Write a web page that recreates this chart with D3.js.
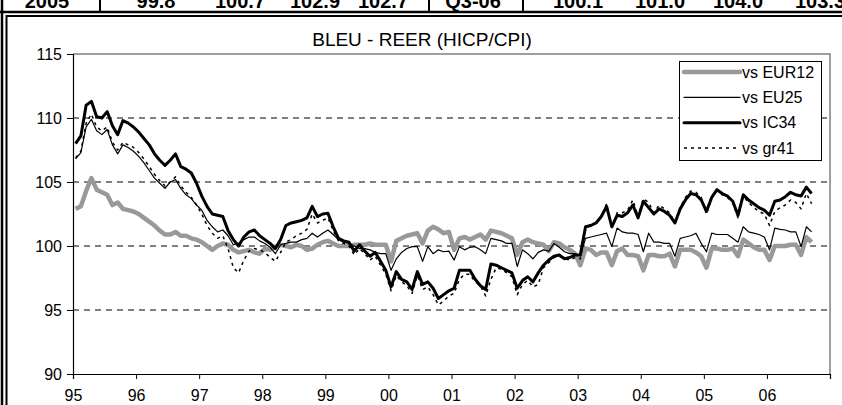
<!DOCTYPE html>
<html>
<head>
<meta charset="utf-8">
<script src="https://cdn.jsdelivr.net/npm/d3@7"></script>
<style>
body { margin: 0; background: #fff; }
svg { display: block; }
text { font-family: "Liberation Sans", Arial, sans-serif; }
</style>
</head>
<body>
<div id="chart"></div>
<script>
// table row above the chart (only its bottom shows)
var tableCells = ["2005", "99.8", "100.7", "102.9", "102.7", "Q3-06", "100.1", "101.0", "104.0", "103.3"];
var tableX = [47, 156, 240, 315, 383, 473, 578, 660, 738, 820];

var yearLabels = ["95", "96", "97", "98", "99", "00", "01", "02", "03", "04", "05", "06"];
var yTicks = [90, 95, 100, 105, 110, 115];
var gridValues = [95, 100, 105, 110];
var seriesNames = ["vs EUR12", "vs EU25", "vs IC34", "vs gr41"];

// monthly values, Jan 95 - Sep 06
var eur12 = [
  102.9, 103.1, 104.3, 105.3, 104.4, 104.2, 104.0, 103.2, 103.4, 102.9, 102.8, 102.7,
  102.5, 102.2, 101.9, 101.6, 101.2, 100.9, 100.9, 101.1, 100.8, 100.8, 100.6, 100.5,
  100.3, 100.0, 99.7, 100.0, 100.2, 100.1, 99.7, 99.5, 99.6, 99.7, 99.5, 99.4,
  99.8, 99.7, 99.95, 100.1, 100.0, 99.9, 100.1, 100.0, 99.7, 99.8, 100.1, 100.3,
  100.4, 100.2, 100.0, 100.0, 100.0, 100.1, 100.1, 100.1, 100.2, 100.1, 100.1, 100.1,
  98.8, 100.4, 100.6, 100.8, 100.9, 101.0, 100.2, 101.2, 101.5, 101.3, 101.0, 101.1,
  99.7, 100.6, 100.7, 100.5, 100.7, 100.9, 100.5, 101.2, 101.1, 101.0, 100.8, 100.6,
  99.3, 100.3, 100.5, 100.3, 100.2, 100.1, 99.6, 100.3, 100.2, 99.9, 99.7, 99.4,
  98.5, 99.8, 99.7, 99.3, 99.5, 99.5, 98.5, 99.6, 99.8, 99.3, 99.3, 99.2,
  98.1, 99.3, 99.3, 99.2, 99.2, 99.4, 98.4, 99.7, 99.7, 99.7, 99.5, 99.2,
  98.3, 99.8, 99.8, 99.7, 99.7, 99.8, 99.2, 100.5, 100.2, 99.9, 99.7, 99.7,
  98.9, 100.0, 100.0, 100.0, 100.1, 100.1, 99.3, 100.7, 100.3
];
var eu25 = [
  106.8, 107.3, 109.3, 109.9, 109.0, 108.7, 109.1, 107.9, 107.2, 107.9, 107.7, 107.4,
  107.0, 106.5, 105.9, 105.3, 104.9, 104.5, 105.0, 105.2, 104.5, 104.0, 103.7, 103.2,
  102.8, 102.0, 101.5, 101.1, 101.25, 100.8, 100.1, 100.2, 100.5, 100.7, 100.7, 100.4,
  100.2, 99.9, 99.4, 100.1, 100.2, 100.3, 100.3, 100.5, 100.6, 101.0, 100.7, 101.0,
  101.25, 100.9, 100.5, 100.3, 100.2, 100.0, 99.8, 99.8, 99.7, 99.5, 99.4, 99.4,
  98.1, 99.0, 99.5, 99.8, 99.95, 99.95, 98.8, 99.95, 99.4, 99.7, 99.55, 99.6,
  98.9, 99.95, 99.7, 99.9, 99.95, 99.7, 99.4, 100.6, 100.5, 100.4, 100.2, 100.2,
  98.4, 99.7, 99.4, 99.0, 99.5, 99.7, 99.6, 100.2, 99.9, 99.55, 99.4, 99.4,
  99.2, 100.6, 100.7, 100.8, 100.9, 101.0, 99.95, 101.4, 101.1, 101.0, 101.0, 100.9,
  99.55, 101.0, 100.3, 100.3, 100.2, 100.2, 99.2, 100.6, 100.7, 100.8, 101.0, 100.2,
  99.55, 101.0, 100.9, 100.9, 100.9, 100.6, 100.3, 101.5, 101.1, 101.0, 100.9, 100.7,
  99.7, 101.4, 101.3, 101.25, 101.1, 101.1, 99.95, 101.5, 101.1
];
var ic34 = [
  108.0, 108.6, 111.0, 111.3, 110.1, 110.0, 110.5, 109.4, 108.7, 109.8, 109.6, 109.3,
  108.9, 108.4, 107.9, 107.2, 106.7, 106.3, 106.7, 107.2, 106.2, 106.0, 105.7, 104.9,
  103.9, 103.1, 102.5, 102.4, 102.3, 101.2, 100.5, 100.0, 100.7, 101.1, 101.25, 100.8,
  100.5, 100.2, 99.8, 100.5, 101.6, 101.8, 101.9, 102.0, 102.2, 103.1, 102.3, 102.5,
  102.55, 101.5, 100.6, 100.4, 100.3, 99.6, 100.1, 99.6, 99.2, 99.5, 98.8, 98.1,
  96.8, 98.0, 97.4, 97.2, 96.6, 98.0, 97.0, 97.2, 96.7, 95.9, 96.2, 96.5,
  96.7, 98.1, 98.1, 98.1, 97.4, 96.9, 96.6, 98.6, 98.5, 98.3, 98.1, 97.9,
  96.7, 97.3, 97.6, 97.2, 97.9, 98.5, 98.9, 99.2, 99.3, 99.0, 99.1, 99.3,
  99.3, 101.5, 101.6, 101.8, 102.3, 103.1, 101.5, 102.4, 102.3, 102.6, 103.2, 102.2,
  103.5, 103.0, 102.5, 102.9, 102.7, 102.4, 101.8, 102.9, 103.6, 104.1, 104.0, 103.6,
  102.7, 103.8, 104.4, 104.1, 103.9, 103.5, 102.4, 104.0, 103.6, 103.3, 103.0, 102.8,
  102.4, 103.5, 103.6, 103.85, 104.2, 104.0, 103.9, 104.6, 104.1
];
var gr41 = [
  106.9, 107.4, 109.6, 110.3, 109.3, 109.0, 109.3, 108.1, 107.5, 108.1, 107.9, 107.7,
  107.3, 106.8, 106.2, 105.6, 105.1, 104.7, 105.0, 105.4, 104.7, 104.2, 103.8, 103.2,
  102.5, 101.6, 101.0, 100.6, 100.8, 99.8, 98.3, 97.9, 98.9, 99.6, 99.8, 99.7,
  99.5, 99.1, 98.8, 99.5, 100.3, 100.5, 100.8, 101.0, 101.3, 102.5, 101.8, 102.0,
  102.2, 101.2, 100.4, 100.2, 100.0, 99.3, 99.8, 99.4, 98.9, 99.2, 98.5, 97.8,
  96.5, 97.7, 97.2, 96.9, 96.3, 97.7, 96.6, 96.8, 96.2, 95.4, 95.7, 96.1,
  96.3, 97.4, 97.8, 97.8, 97.2, 96.9, 96.1, 97.4, 98.3, 98.2, 97.9, 97.6,
  96.2, 97.0, 97.3, 96.8, 97.0, 98.3, 98.7, 99.1, 99.2, 99.0, 98.9, 99.1,
  99.0, 101.3, 101.7, 101.8, 102.3, 103.3, 101.4, 102.6, 102.6, 102.8, 103.6, 102.3,
  103.7, 103.4, 102.6, 103.2, 102.9, 102.6, 101.8, 103.0, 103.8, 104.3, 104.2, 103.8,
  102.5, 103.8, 104.3, 104.0, 103.8, 103.4, 102.2, 103.9, 103.4, 103.0, 102.7, 102.5,
  101.6, 102.7, 103.0, 103.2, 103.6, 103.4, 102.9, 104.1, 103.3
];

var series = [
  {name: seriesNames[0], values: eur12, color: "#999999", width: 4.5, dash: null},
  {name: seriesNames[1], values: eu25, color: "#000", width: 1.2, dash: null},
  {name: seriesNames[2], values: ic34, color: "#000", width: 3, dash: null},
  {name: seriesNames[3], values: gr41, color: "#000", width: 1.5, dash: "3,4"}
];

var width = 842, height = 405;
var plot = {left: 73, right: 830, top: 54, bottom: 374};

var svg = d3.select("#chart").append("svg")
  .attr("width", width)
  .attr("height", height);

// table row remains and frame
svg.selectAll(".cell")
  .data(tableCells)
  .enter().append("text")
  .attr("class", "cell")
  .attr("x", function(d, i) { return tableX[i]; })
  .attr("y", 7.5)
  .attr("text-anchor", "middle")
  .style("font-size", "20px")
  .style("font-weight", "bold")
  .text(function(d) { return d; });

[100, 429, 523].forEach(function(x) {
  svg.append("line").attr("x1", x).attr("x2", x).attr("y1", 0).attr("y2", 12)
    .style("stroke", "#000").style("stroke-width", 2);
});
svg.append("line").attr("x1", 0).attr("x2", width).attr("y1", 12).attr("y2", 12)
  .style("stroke", "#000").style("stroke-width", 2.5);
svg.append("line").attr("x1", 6).attr("x2", width).attr("y1", 16).attr("y2", 16)
  .style("stroke", "#000").style("stroke-width", 2);
svg.append("line").attr("x1", 2).attr("x2", 2).attr("y1", 0).attr("y2", height)
  .style("stroke", "#000").style("stroke-width", 2.5);
svg.append("line").attr("x1", 6.5).attr("x2", 6.5).attr("y1", 15).attr("y2", height)
  .style("stroke", "#000").style("stroke-width", 2);

var x = d3.scaleLinear().domain([0, 144]).range([plot.left, plot.right]);
var y = d3.scaleLinear().domain([90, 115]).range([plot.bottom, plot.top]);

// plot area border (grey top/right)
svg.append("path")
  .attr("d", "M" + plot.left + "," + plot.top + "H" + plot.right + "V" + plot.bottom)
  .style("fill", "none")
  .style("stroke", "#808080")
  .style("stroke-width", 1.5);

// dashed gridlines
svg.selectAll(".grid")
  .data(gridValues)
  .enter().append("line")
  .attr("class", "grid")
  .attr("x1", plot.left).attr("x2", plot.right)
  .attr("y1", function(d) { return y(d); })
  .attr("y2", function(d) { return y(d); })
  .style("stroke", "#000")
  .style("stroke-width", 1)
  .style("stroke-dasharray", "6,5");

// title
svg.append("text")
  .attr("x", 422)
  .attr("y", 46)
  .attr("text-anchor", "middle")
  .style("font-size", "19px")
  .text("BLEU - REER (HICP/CPI)");

// axes
var yAxis = d3.axisLeft(y).tickValues(yTicks).tickSize(6).tickPadding(5);
var gy = svg.append("g")
  .attr("transform", "translate(" + plot.left + ",0)")
  .call(yAxis);

var xAxis = d3.axisBottom(x)
  .tickValues(d3.range(0, 145, 12))
  .tickSize(5)
  .tickPadding(11)
  .tickFormat(function(d) { return yearLabels[d / 12] || ""; });
var gx = svg.append("g")
  .attr("transform", "translate(0," + plot.bottom + ")")
  .call(xAxis);

[gx, gy].forEach(function(g) {
  g.selectAll("text").style("font-size", "16px").style("fill", "#000")
    .style("font-family", "'Liberation Sans', Arial, sans-serif");
  g.selectAll("line").style("stroke", "#000");
  g.select(".domain").style("stroke", "#000").style("stroke-width", 1.2);
});

// series lines
var line = d3.line()
  .x(function(d, i) { return x(i + 0.5); })
  .y(function(d) { return y(d); });

svg.selectAll(".series")
  .data(series)
  .enter().append("path")
  .attr("class", "series")
  .attr("d", function(d) { return line(d.values); })
  .style("fill", "none")
  .style("stroke", function(d) { return d.color; })
  .style("stroke-width", function(d) { return d.width; })
  .style("stroke-dasharray", function(d) { return d.dash; })
  .style("stroke-linejoin", "round");

// legend
var legend = svg.append("g").attr("class", "legend");
legend.append("rect")
  .attr("x", 679.5).attr("y", 61.5)
  .attr("width", 142).attr("height", 99)
  .style("fill", "#fff")
  .style("stroke", "#000")
  .style("stroke-width", 1);

var rowY = d3.scalePoint().domain(seriesNames).range([72, 148]);
var item = legend.selectAll(".item")
  .data(series)
  .enter().append("g")
  .attr("class", "item")
  .attr("transform", function(d) { return "translate(0," + rowY(d.name) + ")"; });
item.append("line")
  .attr("x1", 684).attr("x2", 740)
  .style("stroke", function(d) { return d.color; })
  .style("stroke-width", function(d) { return d.width; })
  .style("stroke-dasharray", function(d) { return d.dash; })
  .style("stroke-linecap", function(d) { return d.dash ? "butt" : "round"; });
item.append("text")
  .attr("x", 742)
  .attr("dy", "0.35em")
  .style("font-size", "16px")
  .text(function(d) { return d.name; });
</script>
</body>
</html>
